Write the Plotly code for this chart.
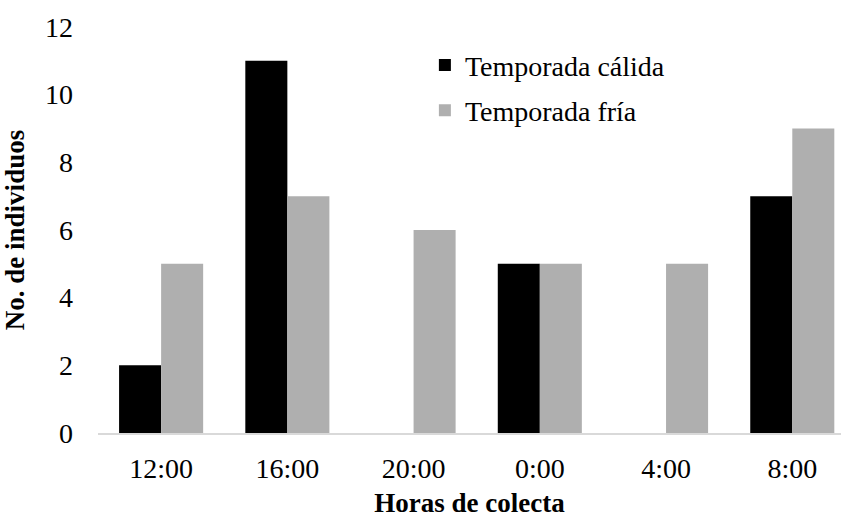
import plotly.graph_objects as go

# Collection hours and number of individuals per season
horas = ["12:00", "16:00", "20:00", "0:00", "4:00", "8:00"]
calida = [2, 11, 0, 5, 0, 7]
fria = [5, 7, 6, 5, 5, 9]
y_ticks = [0, 2, 4, 6, 8, 10, 12]

FONT = "Liberation Serif, Times New Roman, serif"

fig = go.Figure()
fig.add_trace(go.Bar(x=horas, y=calida, name="Temporada cálida",
                     marker=dict(color="#000000", line=dict(width=0)),
                     legendgroup="a"))
fig.add_trace(go.Bar(x=horas, y=fria, name="Temporada fría",
                     marker=dict(color="#afafaf", line=dict(width=0)),
                     legendgroup="b"))

W, H = 841, 519
left, right, top, bottom = 98.2, 841, 26.8, 432.7
step = 126.2  # pixels per category
x_hi = -0.5 + (right - left) / step

fig.update_layout(
    width=W, height=H,
    margin=dict(l=left, r=W - right, t=top, b=H - bottom, pad=0),
    paper_bgcolor="white", plot_bgcolor="white",
    barmode="group", bargap=0.334, bargroupgap=0,
    font=dict(family=FONT, size=28, color="#000000"),
    showlegend=True,
    legend=dict(x=(425 - left) / (right - left), y=1 - (40 - top) / (bottom - top),
                xanchor="left", yanchor="top",
                bgcolor="rgba(0,0,0,0)", font=dict(size=28),
                tracegroupgap=6, traceorder="grouped"),
    xaxis=dict(range=[-0.5, x_hi], showgrid=False, zeroline=False,
               showline=True, linecolor="#d9d9d9", linewidth=1.5,
               ticks="", ticklabelstandoff=10,
               tickfont=dict(size=28),
               title=dict(text="<b>Horas de colecta</b>", font=dict(size=27),
                          standoff=10)),
    yaxis=dict(range=[0, 12], tickvals=y_ticks, showgrid=False,
               zeroline=False, showline=False, ticks="",
               ticklabelstandoff=24, tickfont=dict(size=28),
               title=dict(text="<b>No. de individuos</b>", font=dict(size=27),
                          standoff=14)),
)

fig.write_html("out.html")
